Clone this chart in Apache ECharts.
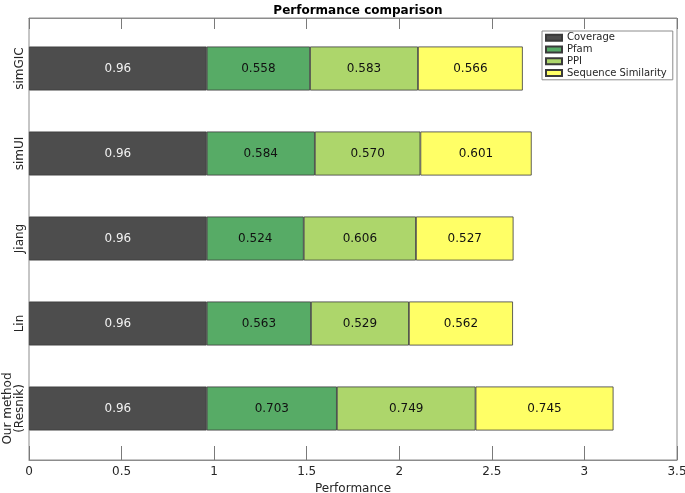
<!DOCTYPE html>
<html>
<head>
<meta charset="utf-8">
<script src="https://cdn.jsdelivr.net/npm/echarts@6/dist/echarts.min.js"></script>
<style>html,body{margin:0;padding:0;background:#fff}#c{width:685px;height:493px}</style>
</head>
<body>
<div id="c"></div>
<script>
var categories = ['simGIC', 'simUI', 'Jiang', 'Lin', 'Our method\n(Resnik)'];
var coverage = [0.96, 0.96, 0.96, 0.96, 0.96];
var pfam = [0.558, 0.584, 0.524, 0.563, 0.703];
var ppi = [0.583, 0.570, 0.606, 0.529, 0.749];
var seqSim = [0.566, 0.601, 0.527, 0.562, 0.745];
var xTicks = [0, 0.5, 1, 1.5, 2, 2.5, 3, 3.5];

var FONT = 'DejaVu Sans';
var chart = echarts.init(document.getElementById('c'), null, {renderer: 'canvas'});

function mkSeries(name, data, color, labelColor, digits) {
  return {
    name: name, type: 'bar', stack: 'total',
    xAxisIndex: 2, yAxisIndex: 1,
    barWidth: 44,
    data: data,
    itemStyle: {color: color, borderColor: '#3a3a3a', borderWidth: 0.8},
    label: {
      show: true, position: 'inside', color: labelColor,
      fontFamily: FONT, fontSize: 12,
      formatter: function (p) { return p.value.toFixed(digits); }
    },
    emphasis: {disabled: true}
  };
}

var option = {
  animation: false,
  backgroundColor: '#ffffff',
  title: {
    text: 'Performance comparison', left: 353, top: 0, textAlign: 'center',
    textStyle: {fontFamily: FONT, fontSize: 12, fontWeight: 'bold', color: '#000'}
  },
  legend: {
    orient: 'vertical', left: 542, top: 31,
    data: ['Coverage', 'Pfam', 'PPI', 'Sequence Similarity'],
    backgroundColor: '#fff', borderColor: '#8c8c8c', borderWidth: 1,
    padding: [1, 6, 1, 3], itemGap: 0, itemWidth: 16, itemHeight: 6,
    textStyle: {fontFamily: FONT, fontSize: 10, color: '#262626', lineHeight: 11.7},
    icon: 'rect'
  },
  grid: [
    {left: 29, right: 8, top: 18, bottom: 33, show: true, borderColor: '#8c8c8c', borderWidth: 1,
      backgroundColor: 'transparent', outerBoundsMode: 'none', containLabel: false},
    {left: 29, right: 8, top: 26, bottom: 42, outerBoundsMode: 'none', containLabel: false}
  ],
  xAxis: [
    {
      gridIndex: 0, type: 'value', min: 0, max: 3.5, interval: 0.5, position: 'bottom',
      axisLine: {show: true, lineStyle: {color: '#8c8c8c'}},
      axisTick: {show: true, inside: true, length: 14, lineStyle: {color: '#7a7a7a'}},
      splitLine: {show: false},
      axisLabel: {fontFamily: FONT, fontSize: 12, color: '#262626', margin: 6,
        formatter: function (v) { return String(v); }},
      name: 'Performance', nameLocation: 'middle', nameGap: 21,
      nameTextStyle: {fontFamily: FONT, fontSize: 12, color: '#262626'}
    },
    {
      gridIndex: 0, type: 'value', min: 0, max: 3.5, interval: 0.5, position: 'top',
      axisLine: {show: true, lineStyle: {color: '#8c8c8c'}},
      axisTick: {show: true, inside: true, length: 11, lineStyle: {color: '#7a7a7a'}},
      splitLine: {show: false}, axisLabel: {show: false}
    },
    {
      gridIndex: 1, type: 'value', min: 0, max: 3.5,
      show: false
    }
  ],
  yAxis: [
    {gridIndex: 0, type: 'value', min: 0, max: 1, show: false},
    {
      gridIndex: 1, type: 'category', inverse: true, data: categories,
      axisLine: {show: false}, axisTick: {show: false}, splitLine: {show: false},
      axisLabel: {interval: 0, rotate: 90, margin: 3, fontFamily: FONT, fontSize: 12, color: '#262626', lineHeight: 12}
    }
  ],
  series: [
    mkSeries('Coverage', coverage, '#4d4d4d', '#f2f2f2', 2),
    mkSeries('Pfam', pfam, '#57ab66', '#111', 3),
    mkSeries('PPI', ppi, '#add66b', '#111', 3),
    mkSeries('Sequence Similarity', seqSim, '#ffff66', '#111', 3)
  ]
};
chart.setOption(option);
</script>
</body>
</html>
